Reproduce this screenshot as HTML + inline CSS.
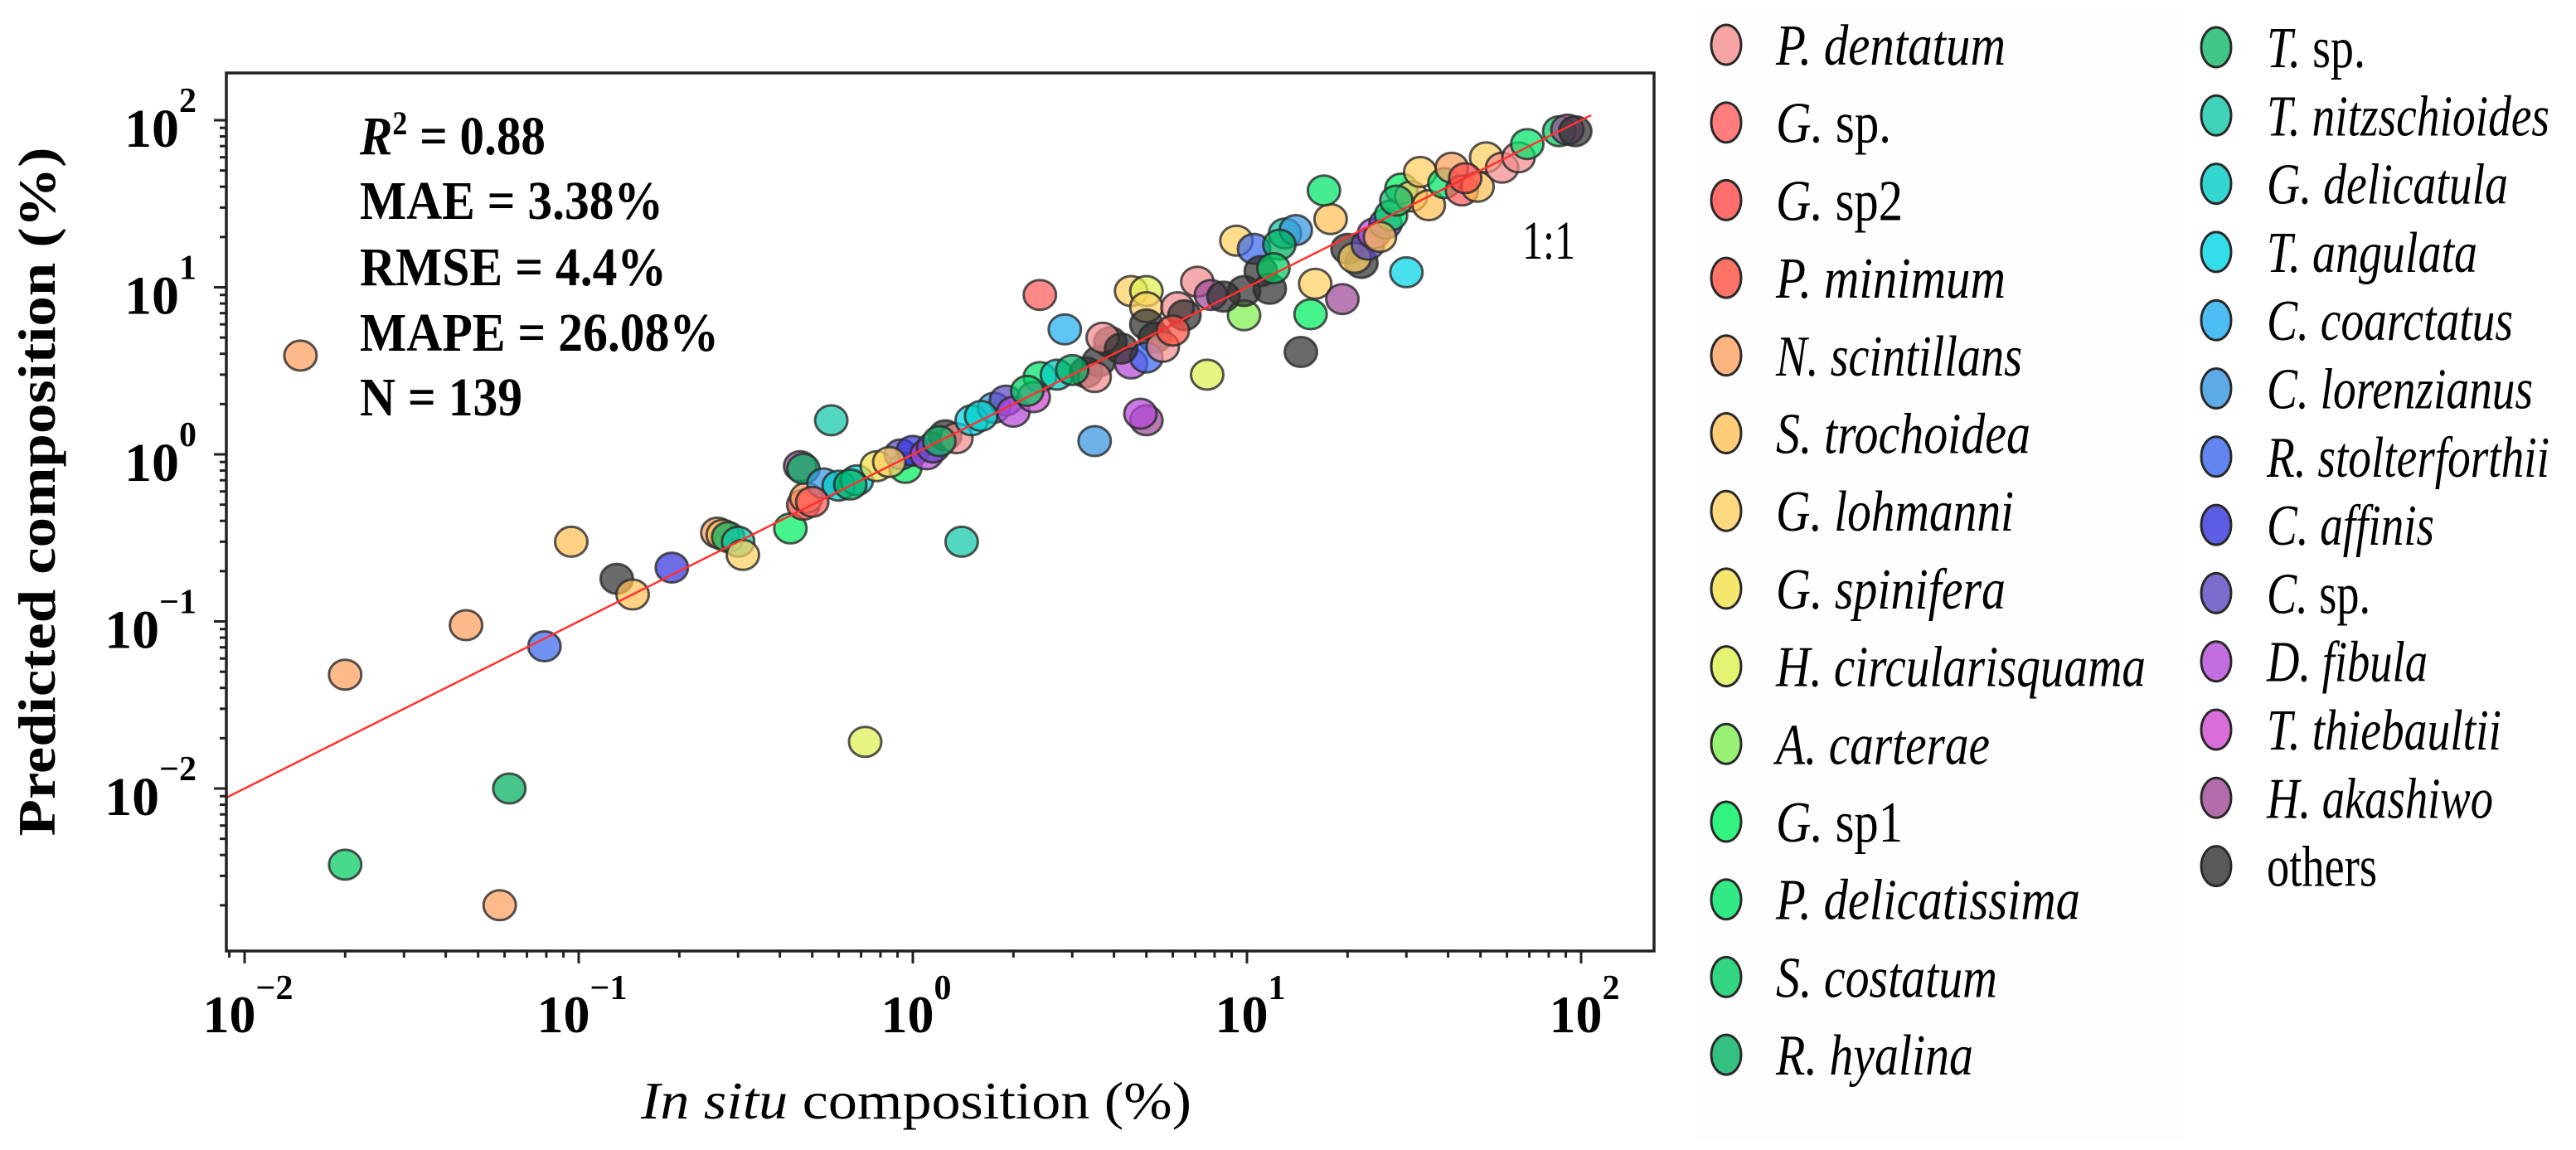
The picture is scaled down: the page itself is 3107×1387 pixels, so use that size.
<!DOCTYPE html>
<html><head><meta charset="utf-8"><style>
html,body{margin:0;padding:0;background:#fff;}
svg{display:block;font-family:"Liberation Serif",serif;}
</style></head><body>
<svg id="chart" width="3107" height="1387" viewBox="0 0 3107 1387" xmlns="http://www.w3.org/2000/svg">
<defs><clipPath id="plotclip"><rect x="273" y="88" width="1722" height="1059"/></clipPath></defs>
<rect x="0" y="0" width="3107" height="1387" fill="#fff"/>
<g id="points" clip-path="url(#plotclip)"></g>
<g id="axes"></g>
<g id="stats" font-weight="bold" font-size="66" fill="#000">
<text x="434" y="186" textLength="224" lengthAdjust="spacingAndGlyphs"><tspan font-style="italic">R</tspan><tspan font-size="40" dy="-24">2</tspan><tspan dy="24"> = 0.88</tspan></text>
<text x="434" y="264" textLength="366" lengthAdjust="spacingAndGlyphs">MAE = 3.38%</text>
<text x="434" y="344" textLength="370" lengthAdjust="spacingAndGlyphs">RMSE = 4.4%</text>
<text x="434" y="423" textLength="433" lengthAdjust="spacingAndGlyphs">MAPE = 26.08%</text>
<text x="434" y="501" textLength="196" lengthAdjust="spacingAndGlyphs">N = 139</text>
</g>
<text x="1836" y="312" font-size="66" textLength="64" lengthAdjust="spacingAndGlyphs">1:1</text>
<text transform="translate(66,593) rotate(-90)" text-anchor="middle" font-size="64" font-weight="bold" textLength="831" lengthAdjust="spacingAndGlyphs">Predicted composition (%)</text>
<text x="773" y="1349" font-size="64" textLength="664" lengthAdjust="spacingAndGlyphs"><tspan font-style="italic">In situ</tspan> composition (%)</text>
<g id="legend"></g>
</svg>
<script>
// ---- data ----
const speciesNames = ["P. dentatum","G. sp.","G. sp2","P. minimum","N. scintillans","S. trochoidea","G. lohmanni","G. spinifera","H. circularisquama","A. carterae","G. sp1","P. delicatissima","S. costatum","R. hyalina","T. sp.","T. nitzschioides","G. delicatula","T. angulata","C. coarctatus","C. lorenzianus","R. stolterforthii","C. affinis","C. sp.","D. fibula","T. thiebaultii","H. akashiwo","others"];
const speciesColors = ["#f28c8c","#ff5c5c","#ff4848","#ff5040","#ffa060","#ffbf55","#ffd060","#f3e04a","#dff050","#80ee50","#00f060","#00e468","#00cc60","#00b060","#10b868","#10c8a8","#00ccc4","#00d4e4","#20aef0","#3596e0","#3a66ee","#3434dc","#5a48c0","#b448d8","#d048d0","#a04898","#303030"];
const legendWidths = [277,139,153,277,297,307,287,277,446,258,153,367,267,238,119,341,291,254,297,321,341,202,125,194,283,273,133];
const xVals = [0.0147,0.02,0.046,0.02,0.058,0.062,0.079,0.095,0.13,0.145,0.19,0.26,0.27,0.28,0.3,0.31,0.43,0.47,0.48,0.46,0.47,0.57,0.54,0.6,0.68,0.72,0.78,0.95,0.92,1.0,1.1,1.15,1.25,1.35,1.4,1.5,1.75,1.9,2.0,2.4,2.7,2.3,2.4,2.85,3.5,3.3,3.6,3.9,3.7,3.5,4.5,5.0,5.0,5.0,5.3,5.0,4.8,4.5,5.0,5.6,6.2,7.1,7.8,7.6,9.8,9.3,10.5,11,9.8,11.7,14.5,15.5,16,17.8,17,19.3,13,14,12.5,20,22,21,23,24,26,27,29,31,30,33,35,39,41,44,49,52,58,65,69,86,91,96,1.2,1.6,2.2,3.0,4.2,6.5,8.5,0.85,0.65,12,25,28,45,0.5,6];
const yVals = [3.9,0.048,0.095,0.0035,0.002,0.01,0.071,0.3,0.18,0.145,0.21,0.34,0.33,0.32,0.3,0.25,0.36,0.5,0.55,0.85,0.82,1.6,0.67,0.65,0.7,0.019,0.85,0.83,1.0,1.05,1.0,1.1,1.3,1.25,0.3,1.6,1.9,2.1,1.8,2.9,3.0,2.2,9.0,5.6,1.2,3.1,3.6,4.7,5.0,2.9,9.5,9.5,7.6,6.0,5.0,1.6,1.75,3.5,3.8,4.4,7.6,10.8,9.0,3.0,6.8,19,17,12.5,9.5,9.8,4.1,6.9,10.5,25.6,38,8.5,21,22,18,17,14,15,18,21,24,27,39,35,12.3,49,31,42,52,38,40,60,52,60,72,86,88,86,1.2,1.7,2.4,3.2,4.3,6.8,8.8,0.9,0.66,13,20,33,45,0.52,5.5];
const speciesIdx = [4,4,4,12,4,13,20,5,26,5,21,4,5,13,15,6,10,3,4,25,13,15,19,16,17,8,7,10,22,21,23,22,26,0,15,17,19,22,23,11,16,24,1,18,19,26,26,26,0,0,6,8,6,26,26,25,23,23,20,0,0,0,25,8,9,6,20,26,26,26,26,10,6,5,11,25,15,19,13,26,26,6,22,23,22,11,10,6,17,6,5,11,4,1,5,6,0,0,11,12,25,26,14,16,12,13,26,26,26,6,13,12,5,14,2,1,3];
const xTickExps = [-2,-1,0,1,2];
const yTickExps = [2,1,0,-1,-2];

// ---- scales ----
const X0 = 295, XD = 403, Y0 = 145, YD = 201.5;
function xScale(v){ return X0 + XD*(Math.log10(v)+2); }
function yScale(v){ return Y0 + YD*(2 - Math.log10(v)); }
const PL = 273, PR = 1995, PT = 88, PB = 1147;
const NS = "http://www.w3.org/2000/svg";
function mk(tag, attrs, parent){ const e = document.createElementNS(NS, tag); for (const k in attrs) e.setAttribute(k, attrs[k]); parent.appendChild(e); return e; }

// ---- points ----
const pg = document.getElementById('points');
for (let i = 0; i < xVals.length; i++) {
  const c = mk('ellipse', {cx: xScale(xVals[i]).toFixed(1), cy: yScale(yVals[i]).toFixed(1), rx: 19.5, ry: 18, fill: speciesColors[speciesIdx[i]], 'fill-opacity': 0.72, stroke: '#2a2a2a', 'stroke-opacity': 0.8, 'stroke-width': 3}, pg);
  
  
}
// 1:1 line
const lmin = Math.pow(10,-2.055), lmax = Math.pow(10,2.03);
const line = mk('line', {x1: xScale(lmin), y1: yScale(lmin), x2: xScale(lmax), y2: yScale(lmax), stroke: '#ff3030', 'stroke-width': 2.5}, pg);



// ---- axes ----
const ax = document.getElementById('axes');
const frame = mk('rect', {x: PL, y: PT, width: PR-PL, height: PB-PT, fill: 'none', stroke: '#222', 'stroke-width': 3.5}, ax);


for (let e = -3; e <= 2; e++) {
  for (let m = 1; m <= 9; m++) {
    const v = m * Math.pow(10, e);
    const len = m === 1 ? 15 : 8;
    const xp = xScale(v);
    if (xp >= PL && xp <= PR) {
      const t = mk('line', {x1: xp, y1: PB, x2: xp, y2: PB + len, stroke: '#222', 'stroke-width': 3}, ax);
      
      
    }
    const yp = yScale(v);
    if (yp >= PT && yp <= PB) {
      const t = mk('line', {x1: PL - len, y1: yp, x2: PL, y2: yp, stroke: '#222', 'stroke-width': 3}, ax);
      
      
    }
  }
}
function expLabel(n){ return n < 0 ? '\u2212' + (-n) : String(n); }
xTickExps.forEach(n => {
  const t = mk('text', {x: xScale(Math.pow(10,n)) + 4, y: 1245, 'text-anchor': 'middle', 'font-size': 64, 'font-weight': 'bold'}, ax);
  
  
  t.appendChild(document.createTextNode('10'));
  const s = mk('tspan', {dy: -40, 'font-size': 42}, t);
  s.textContent = expLabel(n);
});
yTickExps.forEach(n => {
  const t = mk('text', {x: 237, y: yScale(Math.pow(10,n)) + 32, 'text-anchor': 'end', 'font-size': 66, 'font-weight': 'bold'}, ax);
  
  
  t.appendChild(document.createTextNode('10'));
  const s = mk('tspan', {dy: -42, 'font-size': 42}, t);
  s.textContent = expLabel(n);
});

// ---- legend ----
const lg = document.getElementById('legend');
const bg1 = mk('rect', {x: 2045, y: 10, width: 590, height: 1365, fill: '#fefefe', stroke: 'none'}, lg);


speciesNames.forEach((name, i) => {
  const col = i < 14 ? 0 : 1;
  const row = col === 0 ? i : i - 14;
  const cx = col === 0 ? 2082 : 2673;
  const cy = col === 0 ? 54 + 93.7*row : 57 + 82.3*row;
  const tx = col === 0 ? 2142 : 2734;
  const g = mk('g', {}, lg);
  
  
  mk('ellipse', {cx: cx, cy: cy, rx: 18, ry: 24, fill: speciesColors[i], 'fill-opacity': 0.8, stroke: '#2a2a2a', 'stroke-width': 3}, g);
  const t = mk('text', {x: tx, y: cy + 24, 'font-size': 70, textLength: legendWidths[i], lengthAdjust: 'spacingAndGlyphs'}, g);
  if (name === 'others') { t.textContent = name; }
  else {
    const parts = name.split(' ');
    const a = mk('tspan', {'font-style': 'italic'}, t);
    if (parts[1] === 'sp.' || parts[1] === 'sp1' || parts[1] === 'sp2') {
      a.textContent = parts[0];
      const b = mk('tspan', {}, t); b.textContent = ' ' + parts[1];
    } else { a.textContent = name; }
  }
});
</script>
</body></html>
